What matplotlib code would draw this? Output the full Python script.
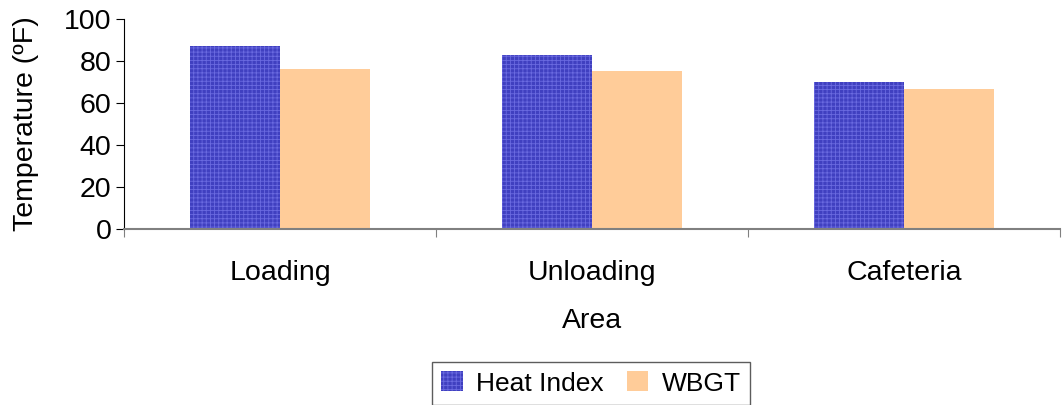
import matplotlib
matplotlib.use("Agg")
import matplotlib.pyplot as plt
import numpy as np

plt.rcParams['font.family'] = ['Liberation Sans', 'DejaVu Sans']
plt.rcParams['hatch.linewidth'] = 0.6

categories = ["Loading", "Unloading", "Cafeteria"]
heat_index = [87, 83, 70]
wbgt = [76, 75, 66.5]
series_names = ["Heat Index", "WBGT"]

FS = 20.5
fig = plt.figure(figsize=(10.64, 4.05), dpi=100)
ax = fig.add_axes([0.1165, 0.4346, 0.8797, 0.5185])

x = np.arange(len(categories))
w = 0.288
ax.bar(x - w/2, heat_index, w, color='#4040C0', edgecolor='#6A6AE0', hatch='++++', linewidth=0, label=series_names[0])
ax.bar(x + w/2, wbgt, w, color='#FFCC99', linewidth=0, label=series_names[1])

ax.set_xlim(-0.5, 2.5)
ax.set_ylim(0, 100)
ax.set_yticks([0, 20, 40, 60, 80, 100])
ax.set_xticks([-0.5, 0.5, 1.5, 2.5], minor=False)
ax.set_xticklabels([])
ax.set_xticks(x, minor=True)
ax.set_xticklabels(categories, minor=True)
ax.tick_params(axis='x', which='minor', length=0, pad=22, labelsize=FS)
ax.tick_params(axis='x', which='major', length=6, direction='out', color='#808080')
ax.tick_params(axis='y', length=6, direction='out', labelsize=FS, pad=3)

for s in ['top', 'right']:
    ax.spines[s].set_visible(False)
ax.spines['bottom'].set_color('#808080')
ax.spines['bottom'].set_linewidth(1.5)
ax.spines['left'].set_color('black')

ax.set_ylabel("Temperature (ºF)", fontsize=FS, labelpad=18)
ax.set_xlabel("Area", fontsize=FS, labelpad=16)

leg = fig.legend(loc='upper center', bbox_to_anchor=(0.5555, 0.106), ncol=2, fontsize=19,
                 frameon=True, fancybox=False, edgecolor='#333333', handlelength=0.8,
                 handleheight=0.8, handletextpad=0.5, columnspacing=0.9, borderpad=0.35,
                 borderaxespad=0)
leg.get_frame().set_linewidth(1.0)

fig.savefig("out.png", dpi=100)
